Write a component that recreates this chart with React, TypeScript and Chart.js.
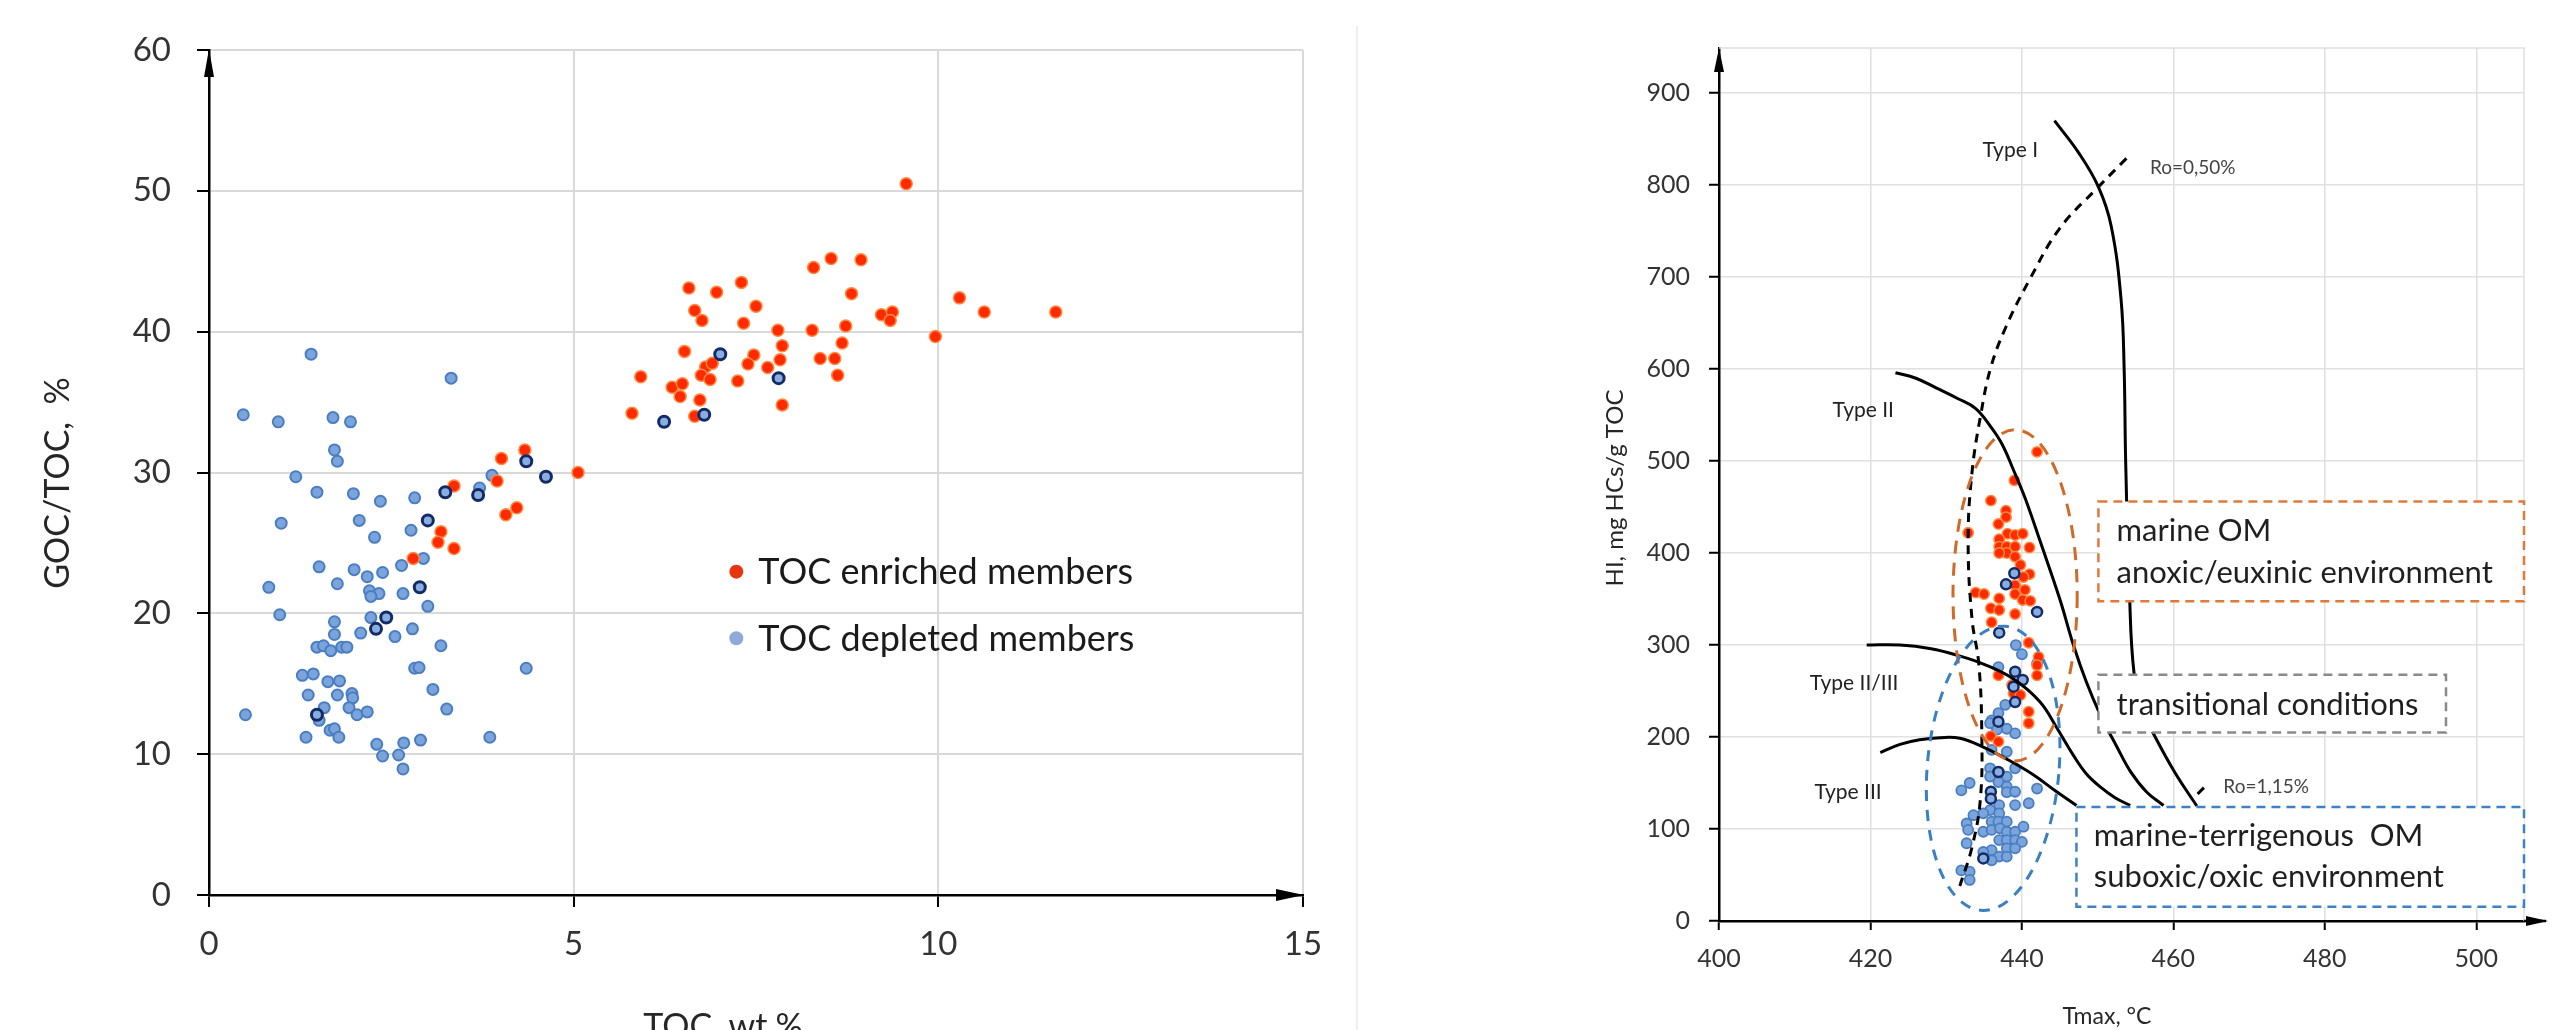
import React, { useEffect, useRef } from 'react';
import { Chart, registerables } from 'chart.js';

Chart.register(...registerables);

type P = [number, number];

const FONT = 'Lato, "Open Sans", "DejaVu Sans", sans-serif';

// ---------------- Left panel: GOC/TOC vs TOC ----------------
const LEFT_X_TICKS = [0, 5, 10, 15];
const LEFT_Y_TICKS = [0, 10, 20, 30, 40, 50, 60];

const tocDepleted: P[] = [
  [1.40, 38.4], [3.32, 36.7], [0.47, 34.1], [0.95, 33.6], [1.70, 33.9], [1.94, 33.6], [1.72, 31.6],
  [1.76, 30.8], [1.19, 29.7], [1.48, 28.6], [1.98, 28.5], [2.35, 27.96], [2.82, 28.2], [2.06, 26.6],
  [0.99, 26.4], [2.77, 25.9], [2.27, 25.4], [2.94, 23.9], [2.64, 23.4], [1.51, 23.3], [1.99, 23.1],
  [2.17, 22.6], [2.38, 22.9], [1.76, 22.1], [0.82, 21.85], [2.20, 21.6], [2.33, 21.4], [2.22, 21.2],
  [2.66, 21.4], [3.00, 20.5], [0.97, 19.9], [1.72, 19.4], [2.22, 19.7], [1.72, 18.5], [2.08, 18.6],
  [2.55, 18.35], [2.79, 18.9], [1.48, 17.6], [1.57, 17.7], [1.67, 17.35], [1.82, 17.6], [1.89, 17.6],
  [3.18, 17.7], [2.82, 16.1], [2.88, 16.15], [4.35, 16.1], [1.28, 15.6], [1.43, 15.7], [1.63, 15.15],
  [1.79, 15.2], [1.36, 14.2], [1.76, 14.2], [1.96, 14.3], [1.97, 14.0], [3.07, 14.6], [1.58, 13.3],
  [1.92, 13.3], [2.03, 12.8], [2.17, 13.0], [3.26, 13.2], [0.50, 12.8], [1.51, 12.4], [1.66, 11.7],
  [1.72, 11.8], [1.78, 11.2], [1.33, 11.2], [3.85, 11.2], [2.30, 10.7], [2.38, 9.87], [2.60, 9.94],
  [2.67, 10.8], [2.90, 11.0], [2.66, 8.95], [3.88, 29.8], [3.71, 28.9], [3.24, 28.6],
];

const tocEnriched: P[] = [
  [5.92, 36.8], [5.80, 34.2], [4.33, 31.6], [4.01, 31.0], [5.06, 30.0], [3.95, 29.4], [3.36, 29.05],
  [4.22, 27.5], [4.07, 27.0], [3.18, 25.8], [3.14, 25.05], [3.36, 24.6], [2.80, 23.9],
  [9.56, 50.5], [8.29, 44.55], [8.53, 45.2], [8.94, 45.1], [6.58, 43.1], [6.96, 42.8], [7.30, 43.5],
  [8.81, 42.7], [7.50, 41.8], [6.66, 41.5], [6.76, 40.8], [7.33, 40.6], [10.29, 42.4], [10.63, 41.4],
  [11.61, 41.4], [9.22, 41.2], [9.37, 41.4], [9.34, 40.8], [7.80, 40.1], [8.27, 40.1], [8.73, 40.4],
  [9.96, 39.65], [7.86, 39.0], [8.68, 39.2], [6.52, 38.6], [7.47, 38.35], [7.39, 37.7], [7.83, 38.0],
  [7.66, 37.45], [8.38, 38.1], [8.58, 38.1], [8.62, 36.9], [6.81, 37.5], [6.90, 37.75], [6.75, 36.9],
  [6.87, 36.6], [7.25, 36.5], [6.35, 36.05], [6.49, 36.3], [6.46, 35.4], [6.73, 35.15], [7.86, 34.8],
  [6.66, 34.0],
];

const tocHighlighted: P[] = [
  [3.24, 28.6], [3.69, 28.4], [4.35, 30.8], [4.62, 29.7], [3.0, 26.6], [2.89, 21.85], [2.43, 19.7],
  [2.29, 18.9], [1.48, 12.8], [7.01, 38.4], [7.81, 36.7], [6.24, 33.6], [6.79, 34.1],
];

const LEFT_LEGEND_LABELS = ['TOC enriched members', 'TOC depleted members'];

// ---------------- Right panel: HI vs Tmax ----------------
const RIGHT_X_TICKS = [400, 420, 440, 460, 480, 500];
const RIGHT_Y_TICKS = [0, 100, 200, 300, 400, 500, 600, 700, 800, 900];

const tmaxEnriched: P[] = [
  [442.0, 510], [439.0, 479], [435.9, 457], [437.9, 446], [437.9, 439], [436.9, 431.5], [432.9, 422],
  [438.1, 421], [439.1, 419.6], [440.1, 421], [437.0, 415], [437.0, 407], [438.0, 407], [439.1, 407],
  [441.0, 406], [438.0, 400], [437.0, 400], [439.1, 396], [439.8, 387], [441.0, 377], [440.2, 374],
  [439.1, 365], [440.4, 360], [439.1, 355.4], [433.9, 357], [435.0, 355.4], [437.0, 350.7], [440.1, 349],
  [441.1, 348], [435.9, 340], [437.0, 338], [439.1, 333.7], [436.0, 324.7], [440.9, 302.5], [442.2, 287],
  [442.0, 278], [442.0, 267], [436.9, 267], [438.9, 247.5], [439.8, 245.6], [438.7, 256.5], [440.9, 227.5],
  [440.9, 215], [435.9, 201], [436.9, 195],
];

const tmaxDepleted: P[] = [
  [439.2, 300], [440.0, 290], [436.9, 276], [442.0, 280], [437.8, 235], [436.9, 226], [436.0, 218],
  [435.8, 215], [438.0, 209], [439.1, 204], [436.7, 208], [436.0, 186], [438.0, 184], [439.1, 166],
  [435.8, 166], [435.8, 157], [438.0, 157], [436.9, 151], [438.0, 146], [438.0, 140], [439.1, 140.5],
  [432.0, 142], [433.1, 150], [442.0, 144], [439.1, 126], [440.9, 128], [437.0, 126], [435.8, 120.6],
  [434.9, 117], [437.0, 117], [433.6, 115], [436.0, 108], [436.9, 108], [438.0, 108], [432.7, 106],
  [434.9, 97], [436.0, 99], [437.1, 100.7], [438.0, 97], [439.1, 97], [440.2, 102.5], [432.9, 99],
  [437.0, 88], [438.0, 88], [439.1, 88], [440.0, 86], [432.7, 84.5], [436.0, 77], [438.0, 79],
  [439.1, 79], [434.9, 75], [437.0, 70], [438.0, 70], [436.0, 66], [432.0, 55], [433.1, 53.6],
  [433.1, 44.6],
];

const tmaxHighlighted: P[] = [
  [439.0, 378], [437.9, 366], [442.0, 336], [437.0, 313.4], [439.1, 271], [440.1, 262], [438.9, 254.7],
  [439.1, 238], [436.9, 216.7], [436.9, 162], [435.9, 140.5], [435.9, 133], [434.9, 68],
];

const typeI: P[] = [
  [444.3, 870], [447.5, 835], [450.1, 798], [451.8, 755], [453.1, 675], [453.5, 600], [453.7, 500],
  [454.2, 358], [454.8, 270], [456.0, 228], [457.6, 200], [460.3, 160], [463.1, 125],
];
const typeII: P[] = [
  [423.3, 596], [426.0, 590], [428.8, 579], [431.5, 568], [433.9, 557], [435.9, 537], [437.4, 518],
  [438.9, 490], [440.5, 458], [442.4, 413], [445.0, 350], [446.8, 300], [448.5, 260], [450.3, 225],
  [452.5, 190], [454.3, 163], [456.5, 140], [458.7, 125.6],
];
const typeIIIII: P[] = [
  [419.5, 300], [423.9, 300], [428.0, 296], [431.4, 289], [435.0, 279], [438.9, 263], [442.4, 238],
  [444.6, 210], [446.8, 180], [448.5, 160], [450.3, 146], [452.3, 134], [454.3, 125.6],
];
const typeIII: P[] = [
  [421.3, 183], [423.9, 192], [426.5, 197], [429.2, 199.3], [431.8, 198.6], [434.9, 189], [438.0, 176],
  [441.5, 159], [444.5, 141], [447.2, 125.6],
];
const ro050: P[] = [
  [453.8, 829], [450.1, 798], [445.0, 753], [441.0, 697], [437.9, 646], [435.9, 602], [434.6, 552],
  [433.4, 487], [432.9, 413], [433.4, 329], [434.3, 280], [434.7, 205], [434.5, 131], [433.4, 80],
  [431.8, 38],
];
const ro115: P[] = [[463.2, 138], [464.4, 148]];

const TYPE_LABELS: { text: string; at: P }[] = [
  { text: 'Type I', at: [434.8, 838] },
  { text: 'Type II', at: [415.0, 555] },
  { text: 'Type II/III', at: [412.0, 258.7] },
  { text: 'Type III', at: [412.6, 140] },
];
const RO_LABELS: { text: string; at: P }[] = [
  { text: 'Ro=0,50%', at: [456.9, 819] },
  { text: 'Ro=1,15%', at: [466.6, 145.6] },
];

const ZONE_BOXES = [
  { x0: 450.1, x1: 506.3, y0: 347.6, y1: 456, color: '#e07a3a', lines: ['marine OM', 'anoxic/euxinic environment'], tx: 452.5, ty: [423.9, 378.4] },
  { x0: 450.1, x1: 496.0, y0: 205, y1: 267.6, color: '#8a8a8a', lines: ['transitional conditions'], tx: 452.5, ty: [234.8] },
  { x0: 447.2, x1: 506.3, y0: 15.5, y1: 124, color: '#3f82c4', lines: ['marine-terrigenous  OM', 'suboxic/oxic environment'], tx: 449.5, ty: [92, 47.8] },
];

const ZONE_ELLIPSES = [
  { cx: 439.1, cy: 354, rx: 8.2, ry: 180, rot: 0, color: '#d06a2a', dash: [13, 9] },
  { cx: 436.2, cy: 166, rx: 8.7, ry: 155, rot: 5, color: '#3a7fc3', dash: [11, 9] },
];

// ---------------- helpers ----------------
const toXY = (pts: P[]) => pts.map(([x, y]) => ({ x, y }));

function arrowHead(ctx: CanvasRenderingContext2D, x: number, y: number, dir: 'up' | 'right', len: number, half: number) {
  ctx.beginPath();
  if (dir === 'up') {
    ctx.moveTo(x, y);
    ctx.lineTo(x - half, y + len);
    ctx.lineTo(x + half, y + len);
  } else {
    ctx.moveTo(x, y);
    ctx.lineTo(x - len, y - half);
    ctx.lineTo(x - len, y + half);
  }
  ctx.closePath();
  ctx.fill();
}

const hideAtMin = (gridColor: string) => (c: any) =>
  c.tick && c.scale && c.tick.value === c.scale.min ? 'rgba(0,0,0,0)' : gridColor;

// ---------------- plugins ----------------
const leftDecor = {
  id: 'leftDecor',
  afterDraw(chart: any) {
    const { ctx, chartArea: a } = chart;
    const xs = chart.scales.x;
    const ys = chart.scales.y;
    ctx.save();
    ctx.fillStyle = '#000';
    arrowHead(ctx, a.left, a.top - 1, 'up', 28, 5);
    arrowHead(ctx, a.right + 1, a.bottom, 'right', 28, 6);

    // legend
    const legendColors = ['#e8340f', '#8eaadb'];
    const legendAt: P[] = [[7.23, 22.96], [7.23, 18.23]];
    ctx.font = `36px ${FONT}`;
    ctx.textBaseline = 'middle';
    ctx.textAlign = 'left';
    LEFT_LEGEND_LABELS.forEach((label, i) => {
      const px = xs.getPixelForValue(legendAt[i][0]);
      const py = ys.getPixelForValue(legendAt[i][1]);
      ctx.fillStyle = legendColors[i];
      ctx.beginPath();
      ctx.arc(px, py, 7, 0, Math.PI * 2);
      ctx.fill();
      ctx.fillStyle = '#1a1a1a';
      ctx.fillText(label, px + 22, py + 1);
    });

    // axis titles
    ctx.fillStyle = '#262626';
    ctx.font = `34px ${FONT}`;
    ctx.textAlign = 'center';
    ctx.save();
    ctx.translate(58, 483);
    ctx.rotate(-Math.PI / 2);
    ctx.fillText('GOC/TOC,  %', 0, 0);
    ctx.restore();
    ctx.textBaseline = 'top';
    ctx.fillText('TOC, wt.%', 723, 1010);
    ctx.restore();
  },
};

const rightDecor = {
  id: 'rightDecor',
  beforeDatasetsDraw(chart: any) {
    const { ctx, chartArea: a } = chart;
    ctx.save();
    ctx.strokeStyle = '#e0e0e0';
    ctx.lineWidth = 1.5;
    ctx.beginPath();
    ctx.moveTo(a.left, a.top);
    ctx.lineTo(a.right, a.top);
    ctx.lineTo(a.right, a.bottom);
    ctx.stroke();
    ctx.restore();
  },
  afterDatasetsDraw(chart: any) {
    const { ctx } = chart;
    const xs = chart.scales.x;
    const ys = chart.scales.y;
    ctx.save();
    // ellipses
    ZONE_ELLIPSES.forEach((e) => {
      const cx = xs.getPixelForValue(e.cx);
      const cy = ys.getPixelForValue(e.cy);
      const rx = Math.abs(xs.getPixelForValue(e.cx + e.rx) - cx);
      const ry = Math.abs(ys.getPixelForValue(e.cy + e.ry) - cy);
      ctx.strokeStyle = e.color;
      ctx.lineWidth = 3;
      ctx.setLineDash(e.dash);
      ctx.beginPath();
      ctx.ellipse(cx, cy, rx, ry, (e.rot * Math.PI) / 180, 0, Math.PI * 2);
      ctx.stroke();
    });
    // boxes
    ZONE_BOXES.forEach((b) => {
      const x0 = xs.getPixelForValue(b.x0);
      const x1 = xs.getPixelForValue(b.x1);
      const y0 = ys.getPixelForValue(b.y1);
      const y1 = ys.getPixelForValue(b.y0);
      ctx.setLineDash([]);
      ctx.fillStyle = '#fff';
      ctx.fillRect(x0, y0, x1 - x0, y1 - y0);
      ctx.strokeStyle = b.color;
      ctx.lineWidth = 2.5;
      ctx.setLineDash([9, 6]);
      ctx.strokeRect(x0, y0, x1 - x0, y1 - y0);
      ctx.setLineDash([]);
      ctx.fillStyle = '#1f1f1f';
      ctx.font = `31px ${FONT}`;
      ctx.textAlign = 'left';
      ctx.textBaseline = 'middle';
      b.lines.forEach((line, i) => {
        ctx.fillText(line, xs.getPixelForValue(b.tx), ys.getPixelForValue(b.ty[i]));
      });
    });
    // type labels
    ctx.fillStyle = '#222';
    ctx.font = `21px ${FONT}`;
    ctx.textAlign = 'left';
    ctx.textBaseline = 'middle';
    TYPE_LABELS.forEach((t) => ctx.fillText(t.text, xs.getPixelForValue(t.at[0]), ys.getPixelForValue(t.at[1])));
    ctx.fillStyle = '#444';
    ctx.font = `19px ${FONT}`;
    RO_LABELS.forEach((t) => ctx.fillText(t.text, xs.getPixelForValue(t.at[0]), ys.getPixelForValue(t.at[1])));
    ctx.restore();
  },
  afterDraw(chart: any) {
    const { ctx, chartArea: a } = chart;
    ctx.save();
    ctx.strokeStyle = '#000';
    ctx.lineWidth = 2.5;
    ctx.beginPath();
    ctx.moveTo(a.right, a.bottom);
    ctx.lineTo(a.right + 22, a.bottom);
    ctx.stroke();
    ctx.fillStyle = '#000';
    arrowHead(ctx, a.left, a.top, 'up', 24, 5);
    arrowHead(ctx, a.right + 24, a.bottom, 'right', 22, 5);

    ctx.fillStyle = '#262626';
    ctx.textAlign = 'center';
    ctx.textBaseline = 'middle';
    ctx.font = `24px ${FONT}`;
    ctx.save();
    ctx.translate(259, 488);
    ctx.rotate(-Math.PI / 2);
    ctx.fillText('HI, mg HCs/g TOC', 0, 0);
    ctx.restore();
    ctx.font = `23px ${FONT}`;
    ctx.fillText('Tmax, °C', 751, 1017);
    ctx.restore();
  },
};

function leftConfig(): any {
  return {
    type: 'scatter',
    data: {
      datasets: [
        { label: 'highlighted', data: toXY(tocHighlighted), order: 1, pointRadius: 5.5, backgroundColor: '#88aee0', borderColor: '#142a66', borderWidth: 3 },
        { label: LEFT_LEGEND_LABELS[0], data: toXY(tocEnriched), order: 2, pointRadius: 6, backgroundColor: '#ff2a00', borderColor: '#ff8a40', borderWidth: 1.5 },
        { label: LEFT_LEGEND_LABELS[1], data: toXY(tocDepleted), order: 3, pointRadius: 5.5, backgroundColor: '#7ba4db', borderColor: '#4a7ec3', borderWidth: 2 },
      ],
    },
    options: {
      animation: false,
      responsive: false,
      events: [],
      layout: { padding: { top: 50, right: 53, left: 0, bottom: 0 } },
      plugins: { legend: { display: false }, tooltip: { enabled: false } },
      scales: {
        x: {
          type: 'linear', min: 0, max: 15,
          afterBuildTicks: (s: any) => { s.ticks = LEFT_X_TICKS.map((v) => ({ value: v })); },
          afterFit: (s: any) => { s.height = 135; },
          ticks: { font: { family: FONT, size: 33 }, color: '#333', padding: 18, maxRotation: 0 },
          grid: { color: hideAtMin('#d9d9d9'), lineWidth: 2, tickColor: '#000', tickLength: 12 },
          border: { display: true, color: '#000', width: 2.5 },
        },
        y: {
          type: 'linear', min: 0, max: 60,
          afterBuildTicks: (s: any) => { s.ticks = LEFT_Y_TICKS.map((v) => ({ value: v })); },
          afterFit: (s: any) => { s.width = 209; },
          ticks: { font: { family: FONT, size: 33 }, color: '#333', padding: 26 },
          grid: { color: hideAtMin('#d9d9d9'), lineWidth: 2, tickColor: '#000', tickLength: 12 },
          border: { display: true, color: '#000', width: 2.5 },
        },
      },
    },
    plugins: [leftDecor],
  };
}

function curve(pts: P[], dashed: boolean) {
  return {
    data: toXY(pts), showLine: true, pointRadius: 0, borderColor: '#000', borderWidth: 3,
    tension: 0.4, fill: false, order: 0, borderDash: dashed ? [9, 7] : [],
  };
}

function rightConfig(): any {
  return {
    type: 'scatter',
    data: {
      datasets: [
        { ...curve(typeI, false), label: 'Type I' },
        { ...curve(typeII, false), label: 'Type II' },
        { ...curve(typeIIIII, false), label: 'Type II/III' },
        { ...curve(typeIII, false), label: 'Type III' },
        { ...curve(ro050, true), label: 'Ro=0,50%' },
        { ...curve(ro115, true), label: 'Ro=1,15%', tension: 0 },
        { label: 'highlighted', data: toXY(tmaxHighlighted), order: 1, pointRadius: 5, backgroundColor: '#88aee0', borderColor: '#142a66', borderWidth: 2.5 },
        { label: LEFT_LEGEND_LABELS[0], data: toXY(tmaxEnriched), order: 2, pointRadius: 5.2, backgroundColor: '#ff2a00', borderColor: '#ff8a40', borderWidth: 1.5 },
        { label: LEFT_LEGEND_LABELS[1], data: toXY(tmaxDepleted), order: 3, pointRadius: 5, backgroundColor: '#7ba4db', borderColor: '#4a7ec3', borderWidth: 1.8 },
      ],
    },
    options: {
      animation: false,
      responsive: false,
      events: [],
      layout: { padding: { top: 48, right: 30, left: 0, bottom: 0 } },
      plugins: { legend: { display: false }, tooltip: { enabled: false } },
      scales: {
        x: {
          type: 'linear', min: 400, max: 506.3,
          afterBuildTicks: (s: any) => { s.ticks = RIGHT_X_TICKS.map((v) => ({ value: v })); },
          afterFit: (s: any) => { s.height = 109; },
          ticks: { font: { family: FONT, size: 25 }, color: '#333', padding: 14, maxRotation: 0 },
          grid: { color: hideAtMin('#e0e0e0'), lineWidth: 1.5, tickColor: '#000', tickLength: 9, tickWidth: 2 },
          border: { display: true, color: '#000', width: 2.5 },
        },
        y: {
          type: 'linear', min: 0, max: 949,
          afterBuildTicks: (s: any) => { s.ticks = RIGHT_Y_TICKS.map((v) => ({ value: v })); },
          afterFit: (s: any) => { s.width = 363; },
          ticks: { font: { family: FONT, size: 25 }, color: '#333', padding: 19 },
          grid: { color: hideAtMin('#e0e0e0'), lineWidth: 1.5, tickColor: '#000', tickLength: 10, tickWidth: 2 },
          border: { display: true, color: '#000', width: 2.5 },
        },
      },
    },
    plugins: [rightDecor],
  };
}

export default function App() {
  const leftRef = useRef<HTMLCanvasElement>(null);
  const rightRef = useRef<HTMLCanvasElement>(null);

  useEffect(() => {
    const c1 = new Chart(leftRef.current as HTMLCanvasElement, leftConfig());
    const c2 = new Chart(rightRef.current as HTMLCanvasElement, rightConfig());
    return () => {
      c1.destroy();
      c2.destroy();
    };
  }, []);

  return (
    <div style={{ position: 'absolute', left: 0, top: 0, width: 2554, height: 1030, background: '#fff', overflow: 'hidden' }}>
      <canvas ref={leftRef} width={1356} height={1030} style={{ position: 'absolute', left: 0, top: 0, width: 1356, height: 1030 }} />
      <div style={{ position: 'absolute', left: 1356, top: 26, width: 2, height: 1004, background: '#efefef' }} />
      <canvas ref={rightRef} width={1198} height={1030} style={{ position: 'absolute', left: 1356, top: 0, width: 1198, height: 1030 }} />
    </div>
  );
}
